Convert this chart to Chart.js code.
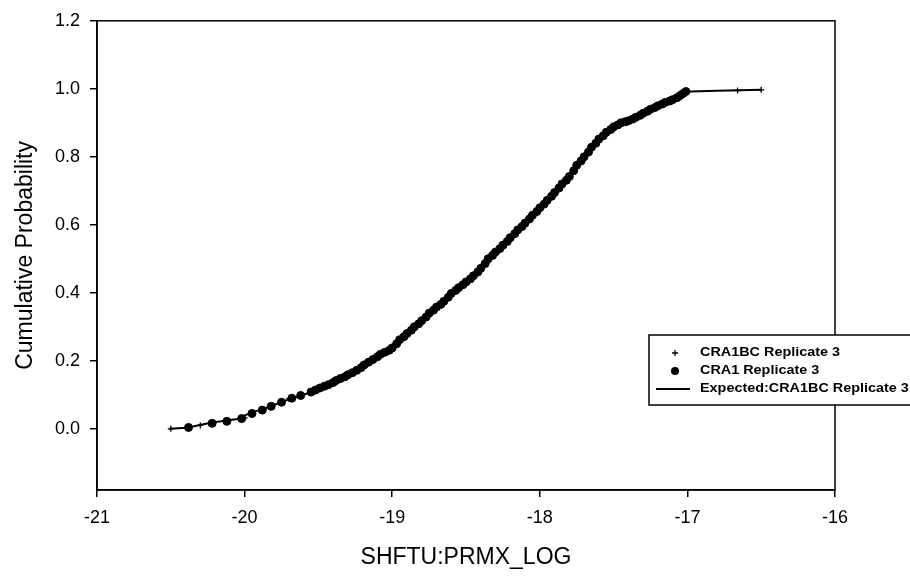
<!DOCTYPE html>
<html>
<head>
<meta charset="utf-8">
<script src="https://cdn.jsdelivr.net/npm/chart.js@4.4.1/dist/chart.umd.min.js"></script>
<style>
  html, body { margin: 0; padding: 0; background: #fff; }
  #wrap { width: 910px; height: 581px; }
</style>
</head>
<body>
<div id="wrap"><canvas id="c" width="910" height="581"></canvas></div>
<script>
const xTicks = [-21, -20, -19, -18, -17, -16];
const yTicks = [0.0, 0.2, 0.4, 0.6, 0.8, 1.0, 1.2];

const seriesNames = ["CRA1BC Replicate 3", "CRA1 Replicate 3", "Expected:CRA1BC Replicate 3"];

// CRA1BC Replicate 3 (crosses)
const bcX = [-20.50, -20.30, -20.00, -19.70, -19.40, -19.10, -18.80, -18.50, -18.20, -17.90, -17.60, -17.30, -17.00, -16.66, -16.50];
const bcY = [0.000, 0.010, 0.032, 0.088, 0.136, 0.212, 0.318, 0.432, 0.562, 0.695, 0.852, 0.928, 0.992, 0.995, 0.997];

// CRA1 Replicate 3 (dots)
const craX = [-20.38, -20.22, -20.12, -20.02, -19.95, -19.88, -19.82, -19.75, -19.68, -19.62,
              -19.55, -19.52, -19.49, -19.46, -19.43, -19.40, -19.38, -19.35, -19.32, -19.30,
              -19.27, -19.24, -19.21, -19.19, -19.16, -19.13, -19.10, -19.08, -19.05, -19.02,
              -19.00, -18.97, -18.95, -18.92, -18.90, -18.87, -18.85, -18.82, -18.80, -18.77,
              -18.75, -18.72, -18.70, -18.67, -18.65, -18.62, -18.60, -18.57, -18.55, -18.52,
              -18.50, -18.47, -18.45, -18.42, -18.40, -18.37, -18.35, -18.32, -18.30, -18.27,
              -18.25, -18.22, -18.20, -18.17, -18.15, -18.12, -18.10, -18.07, -18.05, -18.02,
              -18.00, -17.97, -17.95, -17.92, -17.90, -17.87, -17.85, -17.82, -17.80, -17.77,
              -17.75, -17.72, -17.70, -17.67, -17.65, -17.62, -17.60, -17.57, -17.55, -17.52,
              -17.50, -17.47, -17.45, -17.42, -17.40, -17.37, -17.35, -17.32, -17.30, -17.27,
              -17.25, -17.22, -17.20, -17.17, -17.15, -17.12, -17.10, -17.07, -17.05, -17.03, -17.01];
const craY = [0.004, 0.016, 0.022, 0.030, 0.045, 0.055, 0.066, 0.078, 0.090, 0.098,
              0.108, 0.114, 0.120, 0.125, 0.130, 0.136, 0.142, 0.148, 0.153, 0.159,
              0.165, 0.172, 0.180, 0.188, 0.196, 0.204, 0.212, 0.219, 0.225, 0.231,
              0.238, 0.250, 0.262, 0.271, 0.280, 0.290, 0.300, 0.309, 0.318, 0.329,
              0.340, 0.349, 0.358, 0.366, 0.375, 0.387, 0.398, 0.407, 0.415, 0.424,
              0.432, 0.441, 0.450, 0.461, 0.472, 0.486, 0.500, 0.510, 0.520, 0.530,
              0.540, 0.551, 0.562, 0.574, 0.585, 0.595, 0.605, 0.617, 0.628, 0.639,
              0.650, 0.661, 0.672, 0.684, 0.695, 0.708, 0.720, 0.731, 0.742, 0.759,
              0.775, 0.788, 0.800, 0.814, 0.828, 0.840, 0.852, 0.862, 0.872, 0.880,
              0.888, 0.894, 0.900, 0.903, 0.906, 0.911, 0.916, 0.922, 0.928, 0.934,
              0.940, 0.945, 0.950, 0.955, 0.960, 0.964, 0.968, 0.974, 0.980, 0.986, 0.992];

// Expected curve
const expX = [-20.51, -20.39, -20.23, -20.05, -19.96, -19.85, -19.69, -19.56, -19.42, -19.29,
              -19.17, -19.06, -18.96, -18.88, -18.74, -18.61, -18.47, -18.34, -18.18, -18.05,
              -17.98, -17.86, -17.75, -17.66, -17.57, -17.48, -17.37, -17.25, -17.14, -17.03,
              -16.80, -16.50];
const expY = [0.000, 0.003, 0.018, 0.029, 0.047, 0.062, 0.088, 0.106, 0.132, 0.161,
              0.194, 0.223, 0.258, 0.296, 0.346, 0.399, 0.443, 0.507, 0.572, 0.630,
              0.660, 0.718, 0.777, 0.824, 0.865, 0.897, 0.912, 0.941, 0.962, 0.991,
              0.994, 0.997];

const pts = (xs, ys) => xs.map((x, i) => ({ x, y: ys[i] }));
const FONT = "'Liberation Sans', Arial, sans-serif";

const framePlugin = {
  id: "frame",
  afterDraw(chart) {
    const { ctx, chartArea: a } = chart;
    ctx.save();
    ctx.strokeStyle = "#000";
    ctx.lineWidth = 1.5;
    ctx.strokeRect(a.left, a.top, a.right - a.left, a.bottom - a.top);

    // legend box
    const bx = 649, by = 335, bw = 262, bh = 70;
    ctx.fillStyle = "#fff";
    ctx.fillRect(bx, by, bw, bh);
    ctx.lineWidth = 1.5;
    ctx.strokeRect(bx, by, bw, bh);
    ctx.fillStyle = "#000";
    const rows = [353, 371, 389];
    // cross
    ctx.lineWidth = 1.3;
    ctx.beginPath();
    ctx.moveTo(672, rows[0]); ctx.lineTo(678, rows[0]);
    ctx.moveTo(675, rows[0] - 3); ctx.lineTo(675, rows[0] + 3);
    ctx.stroke();
    // dot
    ctx.beginPath();
    ctx.arc(675, rows[1], 4, 0, Math.PI * 2);
    ctx.fill();
    // line
    ctx.lineWidth = 2;
    ctx.beginPath();
    ctx.moveTo(656, rows[2]); ctx.lineTo(690, rows[2]);
    ctx.stroke();
    ctx.font = "bold 12px " + FONT;
    ctx.textBaseline = "middle";
    seriesNames.forEach((n, i) => {
      ctx.save();
      ctx.translate(700, rows[i]);
      ctx.scale(1.2, 1);
      ctx.fillText(n, 0, 0);
      ctx.restore();
    });
    ctx.restore();
  }
};

new Chart(document.getElementById("c"), {
  type: "scatter",
  data: {
    datasets: [
      {
        label: seriesNames[2],
        type: "line",
        data: pts(expX, expY),
        borderColor: "#000",
        borderWidth: 2,
        pointRadius: 0,
        tension: 0,
        fill: false
      },
      {
        label: seriesNames[1],
        data: pts(craX, craY),
        backgroundColor: "#000",
        borderColor: "#000",
        pointRadius: 4,
        pointStyle: "circle"
      },
      {
        label: seriesNames[0],
        data: pts(bcX, bcY),
        borderColor: "#000",
        borderWidth: 1.3,
        pointRadius: 3,
        pointStyle: "cross"
      }
    ]
  },
  options: {
    responsive: false,
    animation: false,
    layout: { padding: { top: 18, right: 75, left: 0, bottom: 0 } },
    plugins: { legend: { display: false }, tooltip: { enabled: false } },
    scales: {
      x: {
        type: "linear",
        min: -21,
        max: -16,
        afterFit(s) { s.height = 91; },
        afterBuildTicks(s) { s.ticks = xTicks.map(v => ({ value: v })); },
        grid: { drawOnChartArea: false, drawTicks: true, tickLength: 7, color: "#000", lineWidth: 1.5 },
        border: { color: "#000", width: 1.5 },
        ticks: { color: "#000", font: { family: FONT, size: 18 }, padding: 10, maxRotation: 0,
                 callback: v => String(v) },
        title: { display: true, text: "SHFTU:PRMX_LOG", color: "#000",
                 font: { family: FONT, size: 23 }, padding: { bottom: 10 } }
      },
      y: {
        type: "linear",
        min: -0.18,
        max: 1.2,
        afterFit(s) { s.width = 97; },
        afterBuildTicks(s) { s.ticks = yTicks.map(v => ({ value: v })); },
        grid: { drawOnChartArea: false, drawTicks: true, tickLength: 7, color: "#000", lineWidth: 1.5 },
        border: { color: "#000", width: 1.5 },
        ticks: { color: "#000", font: { family: FONT, size: 18 }, padding: 10,
                 callback: v => v.toFixed(1) },
        title: { display: true, text: "Cumulative Probability", color: "#000",
                 font: { family: FONT, size: 23 }, padding: { top: 12 } }
      }
    }
  },
  plugins: [framePlugin]
});
</script>
</body>
</html>
